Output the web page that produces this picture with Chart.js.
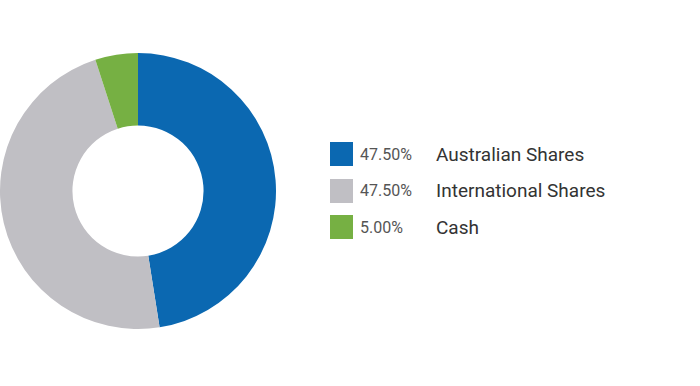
<!DOCTYPE html>
<html>
<head>
<meta charset="utf-8">
<script src="https://cdn.jsdelivr.net/npm/chart.js@4"></script>
<style>
    html, body { margin: 0; padding: 0; background: #fff; }
    body { width: 700px; height: 386px; position: relative; overflow: hidden; font-family: Roboto, sans-serif; }
    #chartWrap { position: absolute; left: 0; top: 53px; width: 276px; height: 276px; }
    #legend { position: absolute; left: 330px; top: 142px; }
    .row { display: flex; align-items: center; height: 24px; margin-bottom: 12.5px; }
    .box { width: 23px; height: 24px; }
    .pct { width: 76px; padding-left: 7px; font-size: 16px; color: #555; }
    .lbl { font-size: 19px; color: #333; }
</style>
</head>
<body>
<div id="chartWrap"><canvas id="allocChart"></canvas></div>
<div id="legend"></div>
<script>
// Asset allocation data
const labels = ['Australian Shares', 'International Shares', 'Cash'];
const values = [47.5, 47.5, 5.0];
const colors = ['#0b68b1', '#c0bfc4', '#76b043'];

const ctx = document.getElementById('allocChart');

new Chart(ctx, {
    type: 'doughnut',
    data: {
        labels: labels,
        datasets: [{
            data: values,
            backgroundColor: colors,
            borderWidth: 0
        }]
    },
    options: {
        animation: false,
        responsive: true,
        maintainAspectRatio: false,
        cutout: '47.5%',
        layout: { padding: 0 },
        plugins: {
            legend: { display: false },
            tooltip: { enabled: false }
        }
    }
});

// Build legend rows from the same arrays
const legend = document.getElementById('legend');
labels.forEach((label, i) => {
    const row = document.createElement('div');
    row.className = 'row';
    row.innerHTML = `
        <div class="box" style="background:${colors[i]}"></div>
        <div class="pct">${values[i].toFixed(2)}%</div>
        <div class="lbl">${label}</div>
    `;
    legend.appendChild(row);
});
</script>
</body>
</html>
